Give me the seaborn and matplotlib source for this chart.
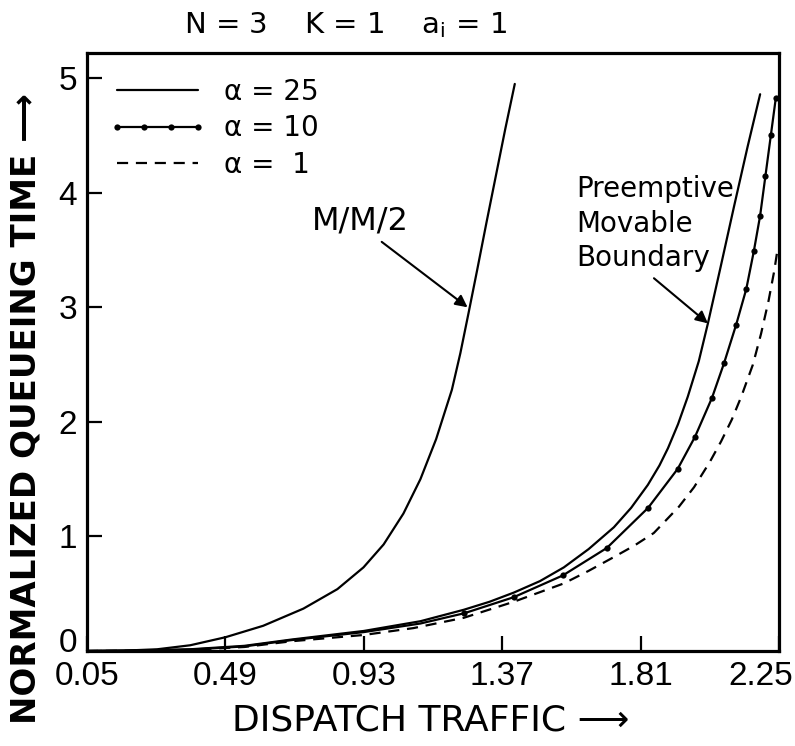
import numpy as np
import pandas as pd
import matplotlib
matplotlib.use("Agg")
import matplotlib.pyplot as plt
import matplotlib.transforms as mtransforms
from matplotlib.lines import Line2D
import seaborn as sns

# Dispatch traffic / normalized queueing time readings for each curve
mm2_x = [0.05, 0.165, 0.273, 0.378, 0.49, 0.61, 0.738, 0.846, 0.929, 0.993, 1.056, 1.11,
         1.16, 1.21, 1.237, 1.263, 1.29, 1.32, 1.35, 1.38, 1.41]
mm2_y = [0.00, 0.003, 0.015, 0.05, 0.12, 0.22, 0.37, 0.54, 0.73, 0.93, 1.20, 1.50,
         1.85, 2.28, 2.60, 2.95, 3.32, 3.74, 4.15, 4.56, 4.95]

a25_x = [0.05, 0.20, 0.378, 0.55, 0.70, 0.93, 1.11, 1.248, 1.33, 1.407, 1.49, 1.566,
         1.645, 1.725, 1.78, 1.833, 1.87, 1.897, 1.929, 1.96, 1.995, 2.024, 2.065,
         2.107, 2.15, 2.19]
a25_y = [0.00, 0.004, 0.015, 0.045, 0.10, 0.175, 0.26, 0.36, 0.43, 0.51, 0.61, 0.73,
         0.89, 1.08, 1.25, 1.45, 1.62, 1.77, 1.98, 2.22, 2.53, 2.86, 3.36,
         3.88, 4.40, 4.86]

a10_x = [0.05, 0.20, 0.378, 0.55, 0.70, 0.93, 1.11, 1.25, 1.407, 1.563, 1.703, 1.834,
         1.928, 1.983, 2.037, 2.075, 2.114, 2.146, 2.17, 2.19, 2.207, 2.224, 2.24]
a10_y = [0.00, 0.003, 0.012, 0.04, 0.095, 0.165, 0.24, 0.33, 0.47, 0.66, 0.90, 1.25,
         1.59, 1.87, 2.21, 2.51, 2.85, 3.16, 3.49, 3.80, 4.15, 4.50, 4.83]

a1_x = [0.05, 0.20, 0.378, 0.55, 0.70, 0.93, 1.088, 1.248, 1.407, 1.566, 1.645, 1.725,
        1.79, 1.852, 1.932, 1.98, 2.03, 2.066, 2.10, 2.13, 2.167, 2.193, 2.217, 2.235, 2.245]
a1_y = [0.00, 0.002, 0.01, 0.035, 0.085, 0.14, 0.20, 0.29, 0.43, 0.59, 0.70, 0.82,
        0.92, 1.03, 1.26, 1.43, 1.65, 1.83, 2.02, 2.22, 2.50, 2.77, 3.06, 3.32, 3.50]

x_ticks = [0.05, 0.49, 0.93, 1.37, 1.81, 2.25]
x_tick_labels = ["0.05", "0.49", "0.93", "1.37", "1.81", "2.25"]
y_ticks = [0, 1, 2, 3, 4, 5]
y_tick_labels = ["0", "1", "2", "3", "4", "5"]

legend_labels = ["α = 25", "α = 10", "α =  1"]

sns.set_style("white")
plt.rcParams["font.family"] = ["DejaVu Sans"]
plt.rcParams["text.color"] = "black"
plt.rcParams["axes.labelcolor"] = "black"
plt.rcParams["xtick.color"] = "black"
plt.rcParams["ytick.color"] = "black"

fig = plt.figure(figsize=(7.95, 7.46), dpi=100)
ax = fig.add_axes([87 / 795, 1 - 651 / 746, 692 / 795, 598 / 746])

lw = 1.6
dash = (5, 3.5)
sns.lineplot(x=mm2_x, y=mm2_y, ax=ax, color="black", lw=lw, sort=False, estimator=None)
sns.lineplot(x=a25_x, y=a25_y, ax=ax, color="black", lw=lw, sort=False, estimator=None)
sns.lineplot(x=a10_x, y=a10_y, ax=ax, color="black", lw=lw, sort=False, estimator=None,
             marker="o", markersize=4.5, markeredgewidth=0,
             markevery=list(range(7, len(a10_x))))
l1 = sns.lineplot(x=a1_x, y=a1_y, ax=ax, color="black", lw=lw, sort=False,
                  estimator=None).lines[-1]
l1.set_dashes(dash)

ax.set_xlim(0.05, 2.25)
ax.set_ylim(0, 5.22)
ax.set_xticks(x_ticks)
ax.set_xticklabels(x_tick_labels)
ax.set_yticks(y_ticks)
ax.set_yticklabels(y_tick_labels)
ax.tick_params(axis="both", direction="in", length=11, width=1.6, colors="black",
               labelsize=24, pad=7)
ax.tick_params(axis="x", top=False, bottom=True)
ax.tick_params(axis="y", left=True, right=False)
for lab in ax.get_xticklabels() + ax.get_yticklabels():
    lab.set_fontfamily(["Liberation Sans", "DejaVu Sans"])
for sp in ax.spines.values():
    sp.set_visible(True)
    sp.set_linewidth(2.3)
    sp.set_color("black")

# nudge the corner labels so they do not collide
xt = ax.get_xticklabels()
xt[-1].set_transform(xt[-1].get_transform() +
                     mtransforms.ScaledTranslation(-18 / 100, 0, fig.dpi_scale_trans))
yt = ax.get_yticklabels()
yt[0].set_transform(yt[0].get_transform() +
                    mtransforms.ScaledTranslation(0, 11 / 100, fig.dpi_scale_trans))

h25 = Line2D([], [], color="black", lw=lw)
h10 = Line2D([], [], color="black", lw=lw, marker="o", markersize=4.5, markeredgewidth=0)
h1 = Line2D([], [], color="black", lw=lw, dashes=dash)
ax.legend([h25, h10, h1], legend_labels, loc="upper left",
          bbox_to_anchor=(0.032, 0.958), frameon=False, fontsize=20,
          handlelength=3.5, handletextpad=0.65, labelspacing=0.3,
          borderpad=0, borderaxespad=0, numpoints=4, labelcolor="black")

ax.set_xlabel("DISPATCH TRAFFIC ⟶", fontsize=26, color="black")
ax.xaxis.set_label_coords(0.496, -0.087)
ax.set_ylabel("NORMALIZED QUEUEING TIME ⟶", fontsize=24.5, fontweight="bold",
              color="black")
ax.yaxis.set_label_coords(-0.065, 0.406)

ax.annotate("M/M/2", xy=(1.26, 3.0), xytext=(0.92, 3.75), fontsize=23,
            ha="center", va="center", color="black",
            arrowprops=dict(arrowstyle="-|>", color="black", lw=1.5,
                            mutation_scale=18, shrinkA=2, shrinkB=0,
                            relpos=(0.65, 0.0)))
ax.annotate("Preemptive\nMovable\nBoundary", xy=(2.024, 2.86), xytext=(1.604, 3.73),
            fontsize=20, ha="left", va="center", linespacing=1.3, color="black",
            arrowprops=dict(arrowstyle="-|>", color="black", lw=1.5,
                            mutation_scale=18, shrinkA=3, shrinkB=0,
                            relpos=(0.45, 0.0)))

fig.text(0.435, 0.966, r"N = 3    K = 1    $\mathregular{a_i}$ = 1", fontsize=21,
         ha="center", va="center", color="black")

fig.savefig("out.png", dpi=100)
